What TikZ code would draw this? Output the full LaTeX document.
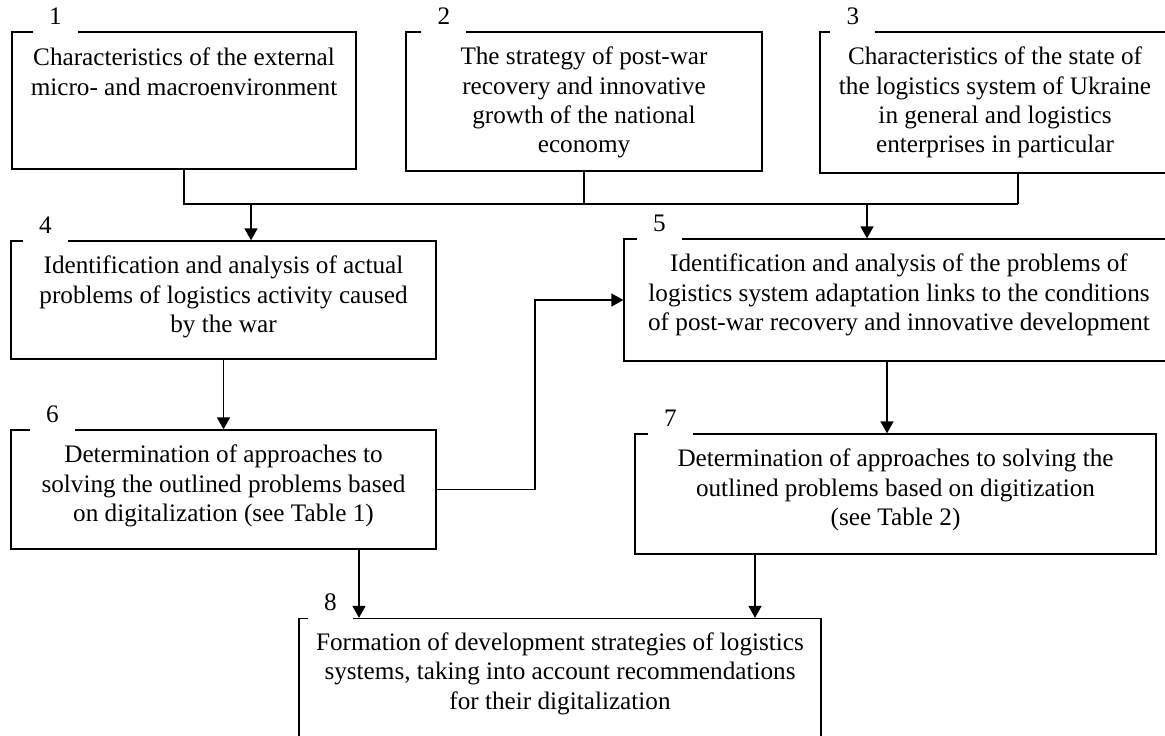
\documentclass[tikz,border=0pt]{standalone}
\usepackage{fontspec}
\setmainfont{Liberation Serif}
\usetikzlibrary{arrows.meta,positioning,calc}

\begin{document}
\begin{tikzpicture}[
  x=0.5pt, y=-0.5pt,
  box/.style={draw, rectangle, inner sep=0pt},
  txt/.style={anchor=north, align=center, inner sep=0pt,
    font=\fontsize{12.6}{14.7}\selectfont},
  num/.style={fill=white, anchor=south, inner xsep=0pt, inner ysep=4pt,
    minimum width=22.5pt, font=\fontsize{12.6}{14.7}\selectfont},
  >={Triangle[length=6pt,width=6.5pt]}, line width=0.65pt
]
  \clip (0,0) rectangle (1165,735);

  % boxes
  \node[box, minimum width=172pt,   minimum height=68.5pt] (b1) at (184,100.5)   {};
  \node[box, minimum width=178pt,   minimum height=69.5pt] (b2) at (584,101.5)   {};
  \node[box, minimum width=175pt,   minimum height=70.5pt] (b3) at (995,102.5)   {};
  \node[box, minimum width=212.5pt, minimum height=59pt]   (b4) at (223.5,300)   {};
  \node[box, minimum width=275pt,   minimum height=61pt]   (b5) at (899,300)     {};
  \node[box, minimum width=212.5pt, minimum height=59.5pt] (b6) at (223.5,489.5) {};
  \node[box, minimum width=260.5pt, minimum height=60pt]   (b7) at (895.5,494)   {};
  \node[box, minimum width=261pt,   minimum height=62.5pt] (b8) at (560,681)     {};

  % numbers on the top lines
  \node[num] (n1) at ($(b1.north west)+(44,2)$)   {1};
  \node[num] (n2) at ($(b2.north west)+(38.5,2)$) {2};
  \node[num] (n3) at ($(b3.north west)+(33.5,2)$) {3};
  \node[num] (n4) at ($(b4.north west)+(35,2)$)   {4};
  \node[num] (n5) at ($(b5.north west)+(36,2)$)   {5};
  \node[num] (n6) at ($(b6.north west)+(42,2)$)   {6};
  \node[num] (n7) at ($(b7.north west)+(36,2)$)   {7};
  \node[num] (n8) at ($(b8.north west)+(32,2)$)   {8};

  % texts
  \node[txt] (t1) at ($(b1.north)+(0,16)$) {Characteristics of the external\\micro- and macroenvironment};
  \node[txt] (t2) at ($(b2.north)+(0,15)$) {The strategy of post-war\\recovery and innovative\\growth of the national\\economy};
  \node[txt] (t3) at ($(b3.north)+(0,15)$) {Characteristics of the state of\\the logistics system of Ukraine\\in general and logistics\\enterprises in particular};
  \node[txt] (t4) at ($(b4.north)+(0,15)$) {Identification and analysis of actual\\problems of logistics activity caused\\by the war};
  \node[txt] (t5) at ($(b5.north)+(0,15)$) {Identification and analysis of the problems of\\logistics system adaptation links to the conditions\\of post-war recovery and innovative development};
  \node[txt] (t6) at ($(b6.north)+(0,15)$) {Determination of approaches to\\solving the outlined problems based\\on digitalization (see Table 1)};
  \node[txt] (t7) at ($(b7.north)+(0,15)$) {Determination of approaches to solving the\\outlined problems based on digitization\\(see Table 2)};
  \node[txt] (t8) at ($(b8.north)+(0,14)$) {Formation of development strategies of logistics\\systems, taking into account recommendations\\for their digitalization};

  % bus under the top row
  \coordinate (busL) at (184,204);
  \coordinate (busR) at (1018,204);
  \coordinate (in4)  at (251,204);
  \coordinate (in5)  at (867,204);
  \coordinate (v57)  at (887,0);
  \coordinate (v68)  at (359,0);
  \coordinate (v78)  at (755,0);
  \coordinate (bend) at (535,0);

  \draw (b1.south) -- (busL) -- (busR);
  \draw (b2.south) -- (b2.south |- busL);
  \draw (busR) -- (busR |- b3.south);
  \draw[->] (in4) -- (in4 |- b4.north);
  \draw[->] (in5) -- (in5 |- b5.north);

  \draw[->] (b4) -- (b6);
  \draw[->] (b5.south -| v57) -- (b7.north -| v57);
  \draw[->] (b6.south -| v68) -- (b8.north -| v68);
  \draw[->] (b7.south -| v78) -- (b8.north -| v78);
  \draw[->] (b6.east) -- (bend |- b6.east) |- (b5.west);
\end{tikzpicture}
\end{document}
